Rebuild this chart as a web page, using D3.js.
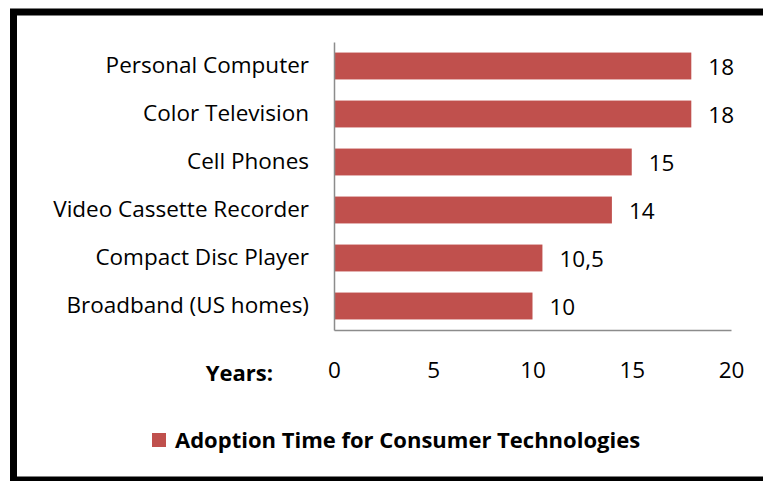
<!DOCTYPE html>
<html lang="en">
<head>
<meta charset="UTF-8">
<title>Adoption Time for Consumer Technologies</title>
<script src="https://d3js.org/d3.v7.min.js"></script>
<style>
    body {margin:0; background:#fff;}
    svg text {font-family:"Open Sans", sans-serif; fill:#000;}
</style>
</head>
<body>
<svg id="chart" width="763" height="481"></svg>
<script>
// data
var categories = ["Personal Computer", "Color Television", "Cell Phones",
                  "Video Cassette Recorder", "Compact Disc Player", "Broadband (US homes)"];
var years = [18, 18, 15, 14, 10.5, 10];
var yearLabels = ["18", "18", "15", "14", "10,5", "10"];
var xTicks = [0, 5, 10, 15, 20];
var seriesName = "Adoption Time for Consumer Technologies";

var svg = d3.select("#chart");
var barColor = "#c0504d";

// outer frame (right edge runs off the picture)
svg.append("rect")
    .attr("x", 13.5).attr("y", 12)
    .attr("width", 800).attr("height", 468)
    .attr("fill", "none")
    .attr("stroke", "#000")
    .attr("stroke-width", 7);

var x = d3.scaleLinear().domain([0, 20]).range([334, 731]);
var y = d3.scaleBand().domain(categories).range([42, 330])
    .paddingInner(0.44).paddingOuter(0.22);

svg.selectAll(".bar")
    .data(categories)
    .enter().append("rect")
    .attr("class", "bar")
    .attr("x", x(0))
    .attr("y", function(d) { return y(d); })
    .attr("width", function(d, i) { return x(years[i]) - x(0); })
    .attr("height", y.bandwidth())
    .attr("fill", barColor);

// value labels
svg.selectAll(".val")
    .data(categories)
    .enter().append("text")
    .attr("class", "val")
    .attr("x", function(d, i) { return x(years[i]) + 17; })
    .attr("y", function(d) { return y(d) + y.bandwidth() / 2 + 1; })
    .attr("dy", "0.35em")
    .style("font-size", "22.5px")
    .text(function(d, i) { return yearLabels[i]; });

// category axis
var yAxis = svg.append("g")
    .attr("transform", "translate(" + x(0) + ",0)")
    .call(d3.axisLeft(y).tickSize(0).tickPadding(25));
yAxis.select(".domain").attr("stroke", "#8c8c8c").attr("stroke-width", 1.5);
yAxis.selectAll("text").style("font-size", "22.5px");

// value axis
var xAxis = svg.append("g")
    .attr("transform", "translate(0,330)")
    .call(d3.axisBottom(x).tickValues(xTicks).tickSize(0).tickPadding(32));
xAxis.select(".domain").attr("stroke", "#8c8c8c").attr("stroke-width", 1.5);
xAxis.selectAll("text").style("font-size", "22.5px");

svg.append("text")
    .attr("x", 273).attr("y", 373)
    .attr("dy", "0.35em")
    .attr("text-anchor", "end")
    .style("font-size", "22px")
    .style("font-weight", "bold")
    .text("Years:");

// legend
var legend = svg.append("g").attr("transform", "translate(152,433)");
legend.append("rect")
    .attr("width", 14).attr("height", 14)
    .attr("fill", barColor);
legend.append("text")
    .attr("x", 23).attr("y", 7)
    .attr("dy", "0.35em")
    .style("font-size", "22px")
    .style("font-weight", "bold")
    .text(seriesName);
</script>
</body>
</html>
